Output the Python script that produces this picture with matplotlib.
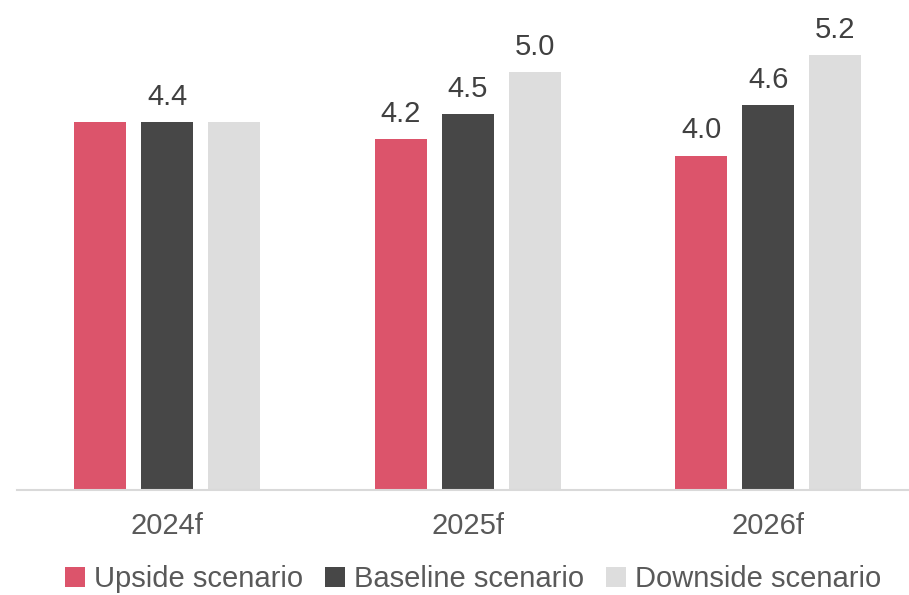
import matplotlib
matplotlib.use("Agg")
import matplotlib.pyplot as plt
import numpy as np
from matplotlib.patches import Patch

plt.rcParams['font.family'] = ['Liberation Sans', 'DejaVu Sans']

categories = ["2024f", "2025f", "2026f"]
series_names = ["Upside scenario", "Baseline scenario", "Downside scenario"]
upside = [4.4, 4.2, 4.0]
baseline = [4.4, 4.5, 4.6]
downside = [4.4, 5.0, 5.2]
show_labels = [[False, True, True], [True, True, True], [False, True, True]]
colors = ["#DC546B", "#474747", "#DDDDDD"]
text_color = "#595959"

W, H = 909, 595
fig = plt.figure(figsize=(W / 100, H / 100), dpi=100)
ax_left = 17 / W
ax_bottom = (H - 490) / H
ax_width = 901.5 / W
ax = fig.add_axes([ax_left, ax_bottom, ax_width, 1 - ax_bottom])

x = np.arange(len(categories))
bw = 52 / 300.5
step = 67 / 300.5
all_series = [upside, baseline, downside]
for i, (vals, c) in enumerate(zip(all_series, colors)):
    xs = x + (i - 1) * step
    bars = ax.bar(xs, vals, width=bw, color=c, zorder=2)
    for j, (b, v) in enumerate(zip(bars, vals)):
        if show_labels[i][j]:
            ax.annotate(f"{v:.1f}", (b.get_x() + b.get_width() / 2, v),
                        xytext=(0, 8), textcoords="offset points",
                        ha="center", va="bottom", fontsize=21, color="#404040")

ax.set_xlim(-0.5, 2.5)
ax.set_ylim(0, 490 / 83.6)
ax.set_xticks(x)
ax.set_xticklabels(categories, fontsize=21, color=text_color)
ax.tick_params(axis="x", length=0, pad=16)
ax.set_yticks([])
for s in ["top", "right", "left"]:
    ax.spines[s].set_visible(False)
ax.spines["bottom"].set_color("#D9D9D9")
ax.spines["bottom"].set_linewidth(1.5)

handles = [Patch(facecolor=c, edgecolor="none") for c in colors]
leg = fig.legend(handles, series_names, loc="center", bbox_to_anchor=(473 / W, (H - 579) / H),
                 ncol=3, frameon=False, fontsize=21, handlelength=0.7, handleheight=0.7,
                 handletextpad=0.3, columnspacing=0.75, labelcolor=text_color,
                 borderpad=0, borderaxespad=0)

fig.savefig("out.png", dpi=100)
